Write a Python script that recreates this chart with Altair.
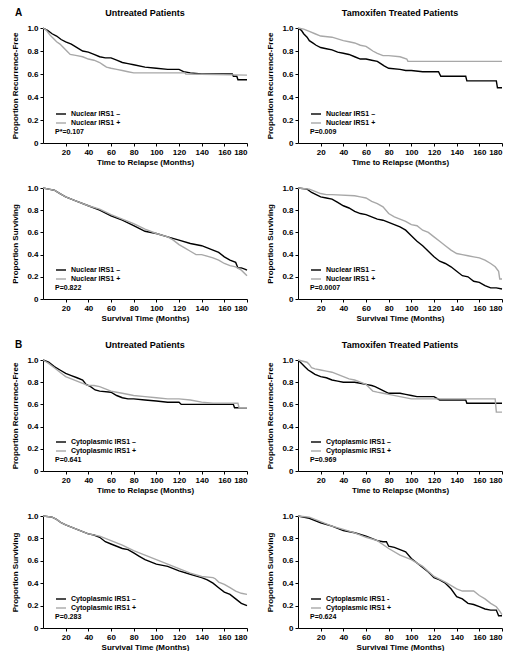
import altair as alt
import pandas as pd

FONT = "Liberation Sans"
NEG_COLOR = "#000000"
POS_COLOR = "#a8a8a8"

X_TICKS = [20, 40, 60, 80, 100, 120, 140, 160, 180]
Y_TICKS = [0, 0.2, 0.4, 0.6, 0.8, 1.0]

# ---------------- Panel A: nuclear IRS1 ----------------
# Untreated, recurrence-free
a_u_rfs_neg_t = [0, 4, 8, 12, 16, 20, 25, 30, 35, 40, 45, 50, 55, 60, 65, 70, 75, 80, 90, 100, 110, 120, 124, 130, 140, 150, 160, 167, 168, 171, 172, 180]
a_u_rfs_neg_s = [1.0, 0.98, 0.95, 0.93, 0.90, 0.88, 0.86, 0.83, 0.80, 0.79, 0.77, 0.75, 0.74, 0.74, 0.72, 0.70, 0.69, 0.68, 0.66, 0.65, 0.64, 0.64, 0.62, 0.61, 0.60, 0.60, 0.60, 0.60, 0.58, 0.58, 0.55, 0.55]
a_u_rfs_pos_t = [0, 3, 6, 9, 12, 15, 18, 21, 24, 30, 35, 40, 45, 50, 53, 56, 60, 65, 70, 75, 80, 120, 125, 126, 180]
a_u_rfs_pos_s = [1.0, 0.98, 0.94, 0.91, 0.88, 0.86, 0.83, 0.80, 0.77, 0.76, 0.75, 0.73, 0.72, 0.70, 0.68, 0.66, 0.65, 0.64, 0.63, 0.62, 0.61, 0.61, 0.61, 0.60, 0.59]

# Tamoxifen, recurrence-free
a_t_rfs_neg_t = [0, 3, 5, 8, 10, 13, 16, 20, 25, 30, 35, 40, 45, 50, 55, 60, 65, 70, 73, 76, 80, 90, 95, 100, 110, 120, 124, 126, 148, 149, 175, 176, 180]
a_t_rfs_neg_s = [1.0, 0.98, 0.95, 0.92, 0.89, 0.87, 0.85, 0.83, 0.82, 0.81, 0.79, 0.78, 0.77, 0.75, 0.73, 0.73, 0.72, 0.71, 0.69, 0.67, 0.65, 0.64, 0.63, 0.63, 0.62, 0.62, 0.62, 0.58, 0.58, 0.54, 0.54, 0.48, 0.48]
a_t_rfs_pos_t = [0, 5, 10, 15, 20, 30, 40, 45, 50, 55, 60, 63, 66, 70, 75, 80, 90, 96, 97, 180]
a_t_rfs_pos_s = [1.0, 0.99, 0.97, 0.95, 0.93, 0.92, 0.89, 0.88, 0.87, 0.85, 0.84, 0.82, 0.80, 0.78, 0.76, 0.76, 0.75, 0.73, 0.71, 0.71]

# Untreated, survival
a_u_os_neg_t = [0, 5, 10, 15, 20, 25, 30, 40, 50, 60, 70, 80, 90, 100, 110, 120, 130, 140, 145, 150, 155, 160, 165, 170, 172, 175, 178, 180]
a_u_os_neg_s = [1.0, 0.99, 0.98, 0.95, 0.92, 0.90, 0.88, 0.84, 0.80, 0.75, 0.71, 0.66, 0.61, 0.59, 0.56, 0.53, 0.50, 0.48, 0.46, 0.44, 0.42, 0.38, 0.35, 0.33, 0.28, 0.28, 0.27, 0.26]
a_u_os_pos_t = [0, 5, 10, 15, 20, 25, 30, 40, 50, 60, 70, 75, 80, 90, 100, 110, 115, 120, 125, 130, 135, 140, 150, 155, 160, 165, 170, 175, 180]
a_u_os_pos_s = [1.0, 0.99, 0.98, 0.95, 0.92, 0.90, 0.88, 0.84, 0.81, 0.76, 0.72, 0.70, 0.68, 0.63, 0.59, 0.56, 0.53, 0.49, 0.46, 0.43, 0.40, 0.40, 0.37, 0.35, 0.32, 0.30, 0.29, 0.26, 0.21]

# Tamoxifen, survival
a_t_os_neg_t = [0, 8, 12, 16, 20, 25, 30, 35, 40, 45, 50, 55, 60, 65, 70, 75, 80, 85, 90, 95, 100, 105, 110, 115, 120, 125, 130, 135, 140, 145, 150, 155, 160, 165, 170, 175, 180]
a_t_os_neg_s = [1.0, 0.99, 0.96, 0.94, 0.92, 0.91, 0.90, 0.87, 0.84, 0.82, 0.79, 0.77, 0.76, 0.74, 0.72, 0.71, 0.69, 0.67, 0.65, 0.62, 0.57, 0.52, 0.48, 0.43, 0.38, 0.34, 0.32, 0.29, 0.25, 0.21, 0.20, 0.16, 0.15, 0.12, 0.10, 0.10, 0.09]
a_t_os_pos_t = [0, 10, 15, 20, 25, 30, 50, 55, 60, 65, 70, 75, 80, 85, 90, 95, 100, 105, 110, 115, 120, 125, 130, 135, 140, 145, 150, 155, 160, 165, 170, 174, 177, 178, 180]
a_t_os_pos_s = [1.0, 0.99, 0.97, 0.95, 0.94, 0.94, 0.93, 0.92, 0.91, 0.88, 0.86, 0.83, 0.77, 0.74, 0.72, 0.70, 0.67, 0.66, 0.62, 0.60, 0.56, 0.52, 0.48, 0.44, 0.41, 0.40, 0.39, 0.38, 0.37, 0.35, 0.32, 0.29, 0.25, 0.18, 0.18]

# ---------------- Panel B: cytoplasmic IRS1 ----------------
b_u_rfs_neg_t = [0, 5, 10, 15, 20, 25, 30, 35, 38, 42, 46, 50, 60, 65, 70, 75, 80, 90, 100, 110, 120, 122, 168, 169, 180]
b_u_rfs_neg_s = [1.0, 0.98, 0.94, 0.91, 0.88, 0.86, 0.84, 0.82, 0.78, 0.76, 0.73, 0.72, 0.71, 0.68, 0.66, 0.65, 0.65, 0.64, 0.63, 0.62, 0.62, 0.60, 0.60, 0.57, 0.57]
b_u_rfs_pos_t = [0, 5, 10, 15, 20, 25, 30, 35, 40, 45, 50, 55, 60, 65, 70, 80, 90, 100, 110, 120, 130, 140, 150, 160, 172, 173, 180]
b_u_rfs_pos_s = [1.0, 0.97, 0.93, 0.89, 0.85, 0.83, 0.81, 0.79, 0.77, 0.77, 0.76, 0.74, 0.72, 0.71, 0.70, 0.68, 0.67, 0.66, 0.65, 0.65, 0.64, 0.62, 0.61, 0.61, 0.61, 0.57, 0.57]

b_t_rfs_neg_t = [0, 3, 6, 9, 12, 15, 20, 25, 30, 35, 40, 50, 55, 60, 65, 68, 72, 76, 80, 90, 95, 100, 105, 110, 120, 125, 148, 149, 180]
b_t_rfs_neg_s = [1.0, 0.97, 0.94, 0.91, 0.89, 0.87, 0.85, 0.84, 0.82, 0.81, 0.80, 0.80, 0.79, 0.78, 0.77, 0.76, 0.74, 0.72, 0.70, 0.70, 0.69, 0.68, 0.67, 0.67, 0.67, 0.64, 0.64, 0.61, 0.61]
b_t_rfs_pos_t = [0, 8, 10, 12, 15, 20, 25, 30, 35, 40, 45, 50, 55, 60, 63, 66, 70, 75, 80, 90, 100, 110, 120, 125, 174, 175, 180]
b_t_rfs_pos_s = [1.0, 0.98, 0.96, 0.93, 0.92, 0.91, 0.90, 0.89, 0.87, 0.85, 0.83, 0.82, 0.80, 0.78, 0.75, 0.72, 0.71, 0.70, 0.69, 0.67, 0.65, 0.65, 0.65, 0.65, 0.65, 0.53, 0.53]

b_u_os_neg_t = [0, 8, 12, 16, 20, 25, 30, 35, 40, 45, 50, 55, 60, 65, 70, 75, 80, 85, 90, 95, 100, 110, 120, 130, 140, 145, 150, 155, 160, 165, 170, 175, 180]
b_u_os_neg_s = [1.0, 0.99, 0.97, 0.94, 0.92, 0.90, 0.88, 0.86, 0.84, 0.83, 0.81, 0.77, 0.75, 0.73, 0.71, 0.70, 0.67, 0.64, 0.61, 0.59, 0.57, 0.55, 0.51, 0.48, 0.45, 0.43, 0.40, 0.36, 0.32, 0.30, 0.26, 0.22, 0.20]
b_u_os_pos_t = [0, 8, 12, 16, 20, 25, 30, 35, 40, 50, 60, 70, 80, 90, 100, 110, 120, 130, 140, 150, 152, 155, 160, 165, 170, 175, 180]
b_u_os_pos_s = [1.0, 0.99, 0.97, 0.94, 0.92, 0.90, 0.88, 0.86, 0.84, 0.82, 0.78, 0.74, 0.69, 0.65, 0.61, 0.57, 0.53, 0.49, 0.46, 0.45, 0.44, 0.41, 0.39, 0.36, 0.33, 0.31, 0.30]

b_t_os_neg_t = [0, 10, 15, 20, 30, 40, 50, 60, 70, 75, 78, 80, 85, 90, 95, 100, 105, 110, 115, 120, 125, 130, 135, 140, 145, 150, 155, 160, 165, 170, 175, 177, 180]
b_t_os_neg_s = [1.0, 0.98, 0.96, 0.94, 0.91, 0.87, 0.85, 0.82, 0.78, 0.77, 0.77, 0.73, 0.72, 0.70, 0.68, 0.62, 0.58, 0.54, 0.50, 0.45, 0.43, 0.40, 0.35, 0.28, 0.26, 0.22, 0.21, 0.19, 0.17, 0.16, 0.16, 0.11, 0.11]
b_t_os_pos_t = [0, 10, 20, 30, 40, 50, 60, 70, 80, 90, 100, 110, 120, 130, 140, 145, 150, 155, 160, 165, 170, 175, 178, 180]
b_t_os_pos_s = [1.0, 0.99, 0.95, 0.91, 0.88, 0.85, 0.81, 0.78, 0.71, 0.65, 0.61, 0.55, 0.46, 0.41, 0.35, 0.33, 0.33, 0.33, 0.29, 0.26, 0.22, 0.19, 0.15, 0.12]

# Text
nuc_labels = ["Nuclear IRS1 \u2013", "Nuclear IRS1 +"]
cyt_labels = ["Cytoplasmic IRS1 \u2013", "Cytoplasmic  IRS1 +"]
cyt_labels2 = ["Cytoplasmic IRS1 \u2013", "Cytoplasmic IRS1 +"]
cyt_labels3 = ["Cytoplasmic IRS1 -", "Cytoplasmic IRS1 +"]
p_values = ["P*=0.107", "P=0.009", "P=0.822", "P=0.0007", "P=0.641", "P=0.969", "P=0.283", "P=0.624"]
col_titles = ["Untreated Patients", "Tamoxifen Treated Patients"]
rfs_ytitle = "Proportion Recurrence-Free"
os_ytitle = "Proportion Surviving"
rfs_xtitle = "Time to Relapse (Months)"
os_xtitle = "Survival Time (Months)"

W = 204


def km_frame(t_neg, s_neg, t_pos, s_pos, labels):
    recs = []
    for i, (t, s) in enumerate(zip(t_neg, s_neg)):
        recs.append({"month": t, "prop": s, "group": labels[0], "idx": i})
    for i, (t, s) in enumerate(zip(t_pos, s_pos)):
        recs.append({"month": t, "prop": s, "group": labels[1], "idx": i})
    return pd.DataFrame(recs)


def label_text(txt, x, y, size, align):
    return alt.Chart(pd.DataFrame({"t": [txt]})).mark_text(
        align=align, baseline="middle", font=FONT, fontSize=size, fontWeight="bold", color="black"
    ).encode(x=alt.value(x), y=alt.value(y), text="t:N")


def panel(t_neg, s_neg, t_pos, s_pos, labels, pval, ytitle, xtitle, height,
          title=None, letter=None):
    df = km_frame(t_neg, s_neg, t_pos, s_pos, labels)
    x = alt.X("month:Q", scale=alt.Scale(domain=[0, 180], nice=False),
              axis=alt.Axis(values=X_TICKS, title=xtitle, grid=False))
    y = alt.Y("prop:Q", scale=alt.Scale(domain=[0, 1], nice=False),
              axis=alt.Axis(values=Y_TICKS, title=ytitle, grid=False,
                            labelExpr="datum.value == 0 ? '0' : format(datum.value, '.1f')"))
    lines = alt.Chart(df).mark_line(strokeWidth=1.4).encode(
        x=x, y=y,
        color=alt.Color("group:N",
                        scale=alt.Scale(domain=labels, range=[NEG_COLOR, POS_COLOR]),
                        title=None,
                        legend=alt.Legend(orient="none", legendX=12, legendY=height - 35,
                                          symbolType="stroke", symbolStrokeWidth=1.4,
                                          symbolSize=100, labelFont=FONT, labelFontSize=7,
                                          labelFontWeight="bold", labelColor="black",
                                          rowPadding=0, padding=0, labelOffset=4)),
        order="idx:Q",
    )
    layers = [lines, label_text(pval, 12, height - 11, 7, "left")]
    if title is not None:
        layers.append(label_text(title, W / 2, -15, 9, "center"))
    if letter is not None:
        layers.append(label_text(letter, -28, -15, 10, "left"))
    return alt.layer(*layers).properties(width=W, height=height)


def row(a, b):
    return alt.hconcat(a, b, spacing=16).resolve_scale(color="independent").resolve_legend(color="independent")


row1 = row(
    panel(a_u_rfs_neg_t, a_u_rfs_neg_s, a_u_rfs_pos_t, a_u_rfs_pos_s, nuc_labels, p_values[0],
          rfs_ytitle, rfs_xtitle, 115, col_titles[0], "A"),
    panel(a_t_rfs_neg_t, a_t_rfs_neg_s, a_t_rfs_pos_t, a_t_rfs_pos_s, nuc_labels, p_values[1],
          rfs_ytitle, rfs_xtitle, 115, col_titles[1]),
)
row2 = row(
    panel(a_u_os_neg_t, a_u_os_neg_s, a_u_os_pos_t, a_u_os_pos_s, nuc_labels, p_values[2],
          os_ytitle, os_xtitle, 111),
    panel(a_t_os_neg_t, a_t_os_neg_s, a_t_os_pos_t, a_t_os_pos_s, nuc_labels, p_values[3],
          os_ytitle, os_xtitle, 111),
)
row3 = row(
    panel(b_u_rfs_neg_t, b_u_rfs_neg_s, b_u_rfs_pos_t, b_u_rfs_pos_s, cyt_labels, p_values[4],
          rfs_ytitle, rfs_xtitle, 111, col_titles[0], "B"),
    panel(b_t_rfs_neg_t, b_t_rfs_neg_s, b_t_rfs_pos_t, b_t_rfs_pos_s, cyt_labels2, p_values[5],
          rfs_ytitle, rfs_xtitle, 111, col_titles[1]),
)
row4 = row(
    panel(b_u_os_neg_t, b_u_os_neg_s, b_u_os_pos_t, b_u_os_pos_s, cyt_labels2, p_values[6],
          os_ytitle, os_xtitle, 112),
    panel(b_t_os_neg_t, b_t_os_neg_s, b_t_os_pos_t, b_t_os_pos_s, cyt_labels3, p_values[7],
          os_ytitle, os_xtitle, 112),
)

chart = alt.vconcat(row1, row2, row3, row4, spacing=18).resolve_scale(
    color="independent").resolve_legend(color="independent").properties(
    padding={"left": 3, "top": 0, "right": 0, "bottom": 0}, background="white"
).configure_view(stroke=None).configure_axis(
    labelFont=FONT, labelFontSize=8, labelFontWeight="bold", labelColor="black",
    titleFont=FONT, titleFontSize=8, titleFontWeight="bold", titleColor="black",
    domainColor="black", tickColor="black", tickSize=3, labelPadding=2,
    domainWidth=1, tickWidth=1,
).configure_axisY(titlePadding=7).configure_axisX(titlePadding=2)

chart.save("out.html", embed_options={"renderer": "svg", "actions": False})
